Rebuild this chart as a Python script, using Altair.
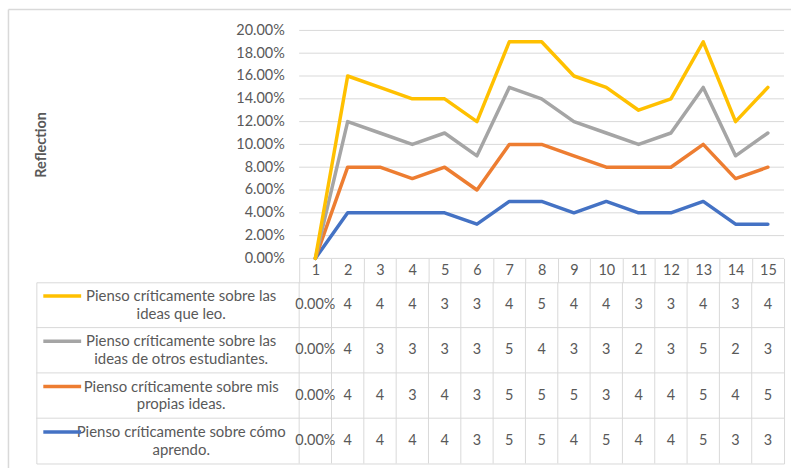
import altair as alt
import pandas as pd

# ---------------- data ----------------
CATEGORIES = [1, 2, 3, 4, 5, 6, 7, 8, 9, 10, 11, 12, 13, 14, 15]
SERIES = [
    "Pienso críticamente sobre las|ideas que leo.",
    "Pienso críticamente sobre las|ideas de otros estudiantes.",
    "Pienso críticamente sobre mis|propias ideas.",
    "Pienso críticamente sobre cómo|aprendo.",
]
COLORS = ["#FFC000", "#A5A5A5", "#ED7D31", "#4472C4"]
VALUES_LEO = [0, 4, 4, 4, 3, 3, 4, 5, 4, 4, 3, 3, 4, 3, 4]
VALUES_OTROS = [0, 4, 3, 3, 3, 3, 5, 4, 3, 3, 2, 3, 5, 2, 3]
VALUES_PROPIAS = [0, 4, 4, 3, 4, 3, 5, 5, 5, 3, 4, 4, 5, 4, 5]
VALUES_APRENDO = [0, 4, 4, 4, 4, 3, 5, 5, 4, 5, 4, 4, 5, 3, 3]
ROWS = [VALUES_LEO, VALUES_OTROS, VALUES_PROPIAS, VALUES_APRENDO]
Y_TICKS = [0.0, 0.02, 0.04, 0.06, 0.08, 0.10, 0.12, 0.14, 0.16, 0.18, 0.20]

# stacked line values (bottom series = last row)
line_rows = []
running = [0] * len(CATEGORIES)
for name, vals in reversed(list(zip(SERIES, ROWS))):
    running = [r + v for r, v in zip(running, vals)]
    for c, r in zip(CATEGORIES, running):
        line_rows.append({"series": name, "cat": c, "pct": r / 100})
lines_df = pd.DataFrame(line_rows)

table_rows = []
for name, vals in zip(SERIES, ROWS):
    for c, v in zip(CATEGORIES, vals):
        table_rows.append({"series": name, "cat": c,
                           "label": f"{v:.2%}" if v == 0 else str(v)})
table_df = pd.DataFrame(table_rows)

BOUNDARIES = [c - 0.5 for c in CATEGORIES] + [CATEGORIES[-1] + 0.5]

# ---------------- layout ----------------
W = 751
TABLE_H = 182
ROW_H = TABLE_H / len(SERIES)
LEGEND_PX = 264
COL_PX = (W - LEGEND_PX) / len(CATEGORIES)
LEGEND_SPAN = LEGEND_PX / COL_PX
TXT = "#595959"
LINE = "#d9d9d9"
FONT = "Lato"

x_scale = alt.Scale(domain=[BOUNDARIES[0] - LEGEND_SPAN, BOUNDARIES[-1]], nice=False, zero=False)
y_scale = alt.Scale(domain=[0, 0.2], nice=False)
color_scale = alt.Scale(domain=SERIES, range=COLORS)

x_axis_top = alt.Axis(
    values=BOUNDARIES,
    labelExpr="datum.value < 1 ? '' : format(datum.value - 0.5, 'd')",
    labelOffset=-COL_PX / 2, labelPadding=-12, labelBaseline="middle",
    labelFlush=False, ticks=True, tickSize=24, tickColor=LINE, tickWidth=1,
    domain=False, grid=False, title=None,
    labelFontSize=14.5, labelColor=TXT, labelFont=FONT,
)
y_axis = alt.Axis(
    values=Y_TICKS, format=".2%", offset=-LEGEND_PX, grid=False, ticks=False,
    domain=False, labelPadding=15, labelFontSize=14.5, labelColor=TXT,
    labelFont=FONT, title="Reflection", titleFontSize=14.5, titleFontWeight="bold",
    titleColor=TXT, titleFont=FONT, titlePadding=188,
)

grid_df = pd.DataFrame({"y": Y_TICKS, "x0": BOUNDARIES[0], "x1": BOUNDARIES[-1]})
grid = alt.Chart(grid_df).mark_rule(color=LINE, strokeWidth=1).encode(
    x=alt.X("x0:Q", scale=x_scale, axis=x_axis_top),
    x2="x1:Q",
    y=alt.Y("y:Q", scale=y_scale, axis=y_axis),
)

lines = alt.Chart(lines_df).mark_line(strokeWidth=3.5, strokeCap="round", strokeJoin="round").encode(
    x=alt.X("cat:Q", scale=x_scale, axis=x_axis_top),
    y=alt.Y("pct:Q", scale=y_scale, axis=y_axis),
    color=alt.Color("series:N", scale=color_scale, legend=None),
    detail="series:N",
)

one = pd.DataFrame({"a": [0]})
frame_top = alt.Chart(one).mark_rule(color=LINE, strokeWidth=1.5).encode(
    x=alt.value(-28), x2=alt.value(758), y=alt.value(-21))
frame_left = alt.Chart(one).mark_rule(color=LINE, strokeWidth=1.5).encode(
    x=alt.value(-28), y=alt.value(-21), y2=alt.value(440))

top = alt.layer(grid, lines, frame_top, frame_left).properties(width=W, height=229)

# ---------------- table ----------------
y_scale_b = alt.Scale(type="band", domain=SERIES, paddingInner=0, paddingOuter=0)
y_axis_b = alt.Axis(
    offset=-LEGEND_PX, labelExpr="split(datum.label, '|')", labelAlign="center",
    labelBaseline="middle", labelPadding=119, labelOffset=-9, ticks=False,
    domain=False, grid=False, title=None, labelFontSize=15, labelColor=TXT,
    labelFont=FONT, labelLineHeight=18, labelLimit=400,
)

cells = alt.Chart(table_df).mark_text(fontSize=14.5, color=TXT, font=FONT).encode(
    x=alt.X("cat:Q", scale=x_scale, axis=None),
    y=alt.Y("series:N", scale=y_scale_b, axis=y_axis_b, sort=SERIES),
    text="label:N",
)

vsep = alt.Chart(pd.DataFrame({"b": BOUNDARIES[:-1]})).mark_rule(color=LINE, strokeWidth=1).encode(
    x=alt.X("b:Q", scale=x_scale, axis=None))

hsep = alt.Chart(pd.DataFrame({"series": SERIES[1:]})).mark_rule(color=LINE, strokeWidth=1).encode(
    y=alt.Y("series:N", scale=y_scale_b, axis=y_axis_b, sort=SERIES, bandPosition=0))

swatch = alt.Chart(pd.DataFrame({"series": SERIES})).mark_rule(strokeWidth=3.5).encode(
    x=alt.value(7), x2=alt.value(45),
    y=alt.Y("series:N", scale=y_scale_b, axis=y_axis_b, sort=SERIES),
    yOffset=alt.value(ROW_H / 2 - 9),
    color=alt.Color("series:N", scale=color_scale, legend=None),
)

bottom = alt.layer(vsep, hsep, cells, swatch).properties(
    width=W, height=TABLE_H, view=alt.ViewBackground(stroke=LINE, strokeWidth=1))

chart = alt.vconcat(top, bottom, spacing=24, bounds="flush").resolve_scale(
    x="independent", y="independent"
).properties(
    padding={"left": 6.5, "top": 6.5, "right": 0, "bottom": 0},
    background="white",
).configure(font=FONT, view=alt.ViewConfig(stroke="transparent"))

chart.save("out.html", embed_options={"renderer": "svg", "actions": False})
